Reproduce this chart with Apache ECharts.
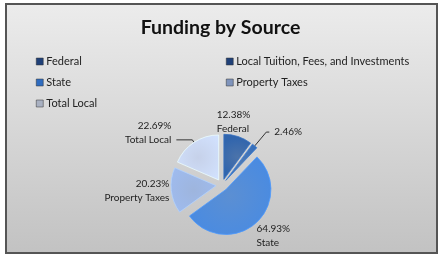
<!DOCTYPE html>
<html><head><meta charset="utf-8">
<script src="https://cdn.jsdelivr.net/npm/echarts@6/dist/echarts.min.js"></script>
<style>html,body{margin:0;padding:0;background:#fff}#c{width:441px;height:257px}</style>
</head><body><div id="c"></div>
<script>
const title = 'Funding by Source';
const categories = ['Federal', 'Local Tuition, Fees, and Investments', 'State', 'Property Taxes', 'Total Local'];
const values = [12.38, 2.46, 64.93, 20.23, 22.69];
const labelNames = ['Federal', '', 'State', 'Property Taxes', 'Total Local'];
const leftLegend = ['Federal', 'State', 'Total Local'];
const rightLegend = ['Local Tuition, Fees, and Investments', 'Property Taxes'];

const colors = ['#2c5b9b', '#2f63a8', '#3f7ccc', '#8ea8d8', '#bccae6'];
const legendColors = ['#1f4078', '#1f4078', '#2f6cc0', '#7f94bc', '#a9b1c2'];
const font = 'Lato, "Open Sans", sans-serif';
// label nudges (layout only)
const labelShift = [[-28, -9], null, [-8, 8], [9, 0], null];
const lineLen = [[6, 0], [18, 3], [6, 0], [6, 0], [3, 16]];

const chart = echarts.init(document.getElementById('c'), null, {renderer: 'canvas'});
const data = categories.map((n, i) => ({
  name: n, value: values[i], selected: true,
  itemStyle: {
    color: new echarts.graphic.RadialGradient(0.5, 0.5, 0.7, [
      {offset: 0, color: echarts.color.lift(colors[i], 0.15)},
      {offset: 1, color: echarts.color.lift(colors[i], -0.12)}
    ], false),
    borderColor: echarts.color.lift(colors[i], -0.25), borderWidth: 0.8
  },
  labelLine: {show: i === 1 || i === 4, length: lineLen[i][0], length2: lineLen[i][1]}
}));
const legendData = names => names.map(n => ({
  name: n, itemStyle: {color: legendColors[categories.indexOf(n)], borderColor: '#333', borderWidth: 0.5}
}));

chart.setOption({
  animation: false,
  color: colors,
  graphic: [{
    type: 'rect', z: -10, silent: true,
    shape: {x: 6, y: 4, width: 431, height: 249},
    style: {
      fill: new echarts.graphic.LinearGradient(0, 0, 0, 1, [
        {offset: 0, color: '#ececec'}, {offset: 1, color: '#c2c2c2'}
      ]),
      stroke: '#555', lineWidth: 2
    }
  }],
  title: {
    text: title, left: 'center', top: 13,
    textStyle: {fontFamily: 'Lato, sans-serif', fontSize: 19.5, fontWeight: 'bold', color: '#111'}
  },
  legend: [{
    data: legendData(leftLegend), orient: 'vertical', left: 31, top: 51,
    itemWidth: 7, itemHeight: 7, itemGap: 10, icon: 'rect',
    textStyle: {fontFamily: font, fontSize: 11, color: '#222', padding: [0, 0, 0, -2]}
  }, {
    data: legendData(rightLegend), orient: 'vertical', left: 221, top: 51,
    itemWidth: 7, itemHeight: 7, itemGap: 10, icon: 'rect',
    textStyle: {fontFamily: font, fontSize: 11, color: '#222', padding: [0, 0, 0, -2]}
  }],
  series: [{
    type: 'pie',
    center: [222, 185], radius: 45,
    startAngle: 90, clockwise: true,
    avoidLabelOverlap: false,
    selectedMode: 'multiple', selectedOffset: 6,
    emphasis: {disabled: true},
    label: {
      show: true, position: 'outside',
      fontFamily: font, fontSize: 10, color: '#222', lineHeight: 14, align: 'center',
      formatter: p => p.value.toFixed(2) + '%' +
        (labelNames[p.dataIndex] ? '\n' + labelNames[p.dataIndex] : '') +
        (p.dataIndex === 4 ? '\n ' : '')
    },
    labelLine: {lineStyle: {color: '#333', width: 1}},
    labelLayout: p => labelShift[p.dataIndex] ? {dx: labelShift[p.dataIndex][0], dy: labelShift[p.dataIndex][1]} : {},
    data: data
  }]
});
</script></body></html>
